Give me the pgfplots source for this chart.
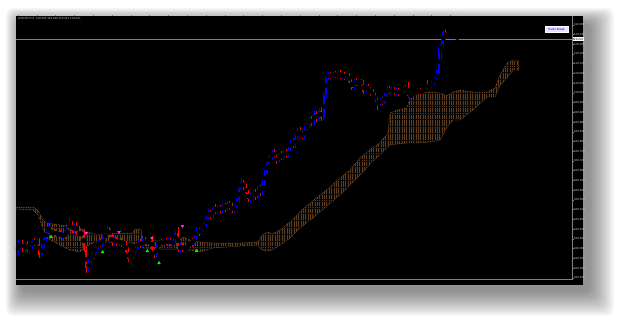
\documentclass[border=0pt]{standalone}
\usepackage{fontspec}
\setmainfont{Liberation Sans}
\usepackage{pgfplots}
\usepackage{pgfplotstable}
\pgfplotsset{compat=1.18}
\usetikzlibrary{patterns.meta}
\definecolor{cloudc}{RGB}{130,86,48}
\definecolor{cloudhatch}{RGB}{92,61,34}
\definecolor{cloudfill}{RGB}{10,7,4}
\definecolor{bull}{RGB}{0,0,255}
\definecolor{bear}{RGB}{255,0,0}
\definecolor{axgray}{RGB}{128,128,128}
\definecolor{lbl}{RGB}{200,200,200}
\definecolor{kumobg}{RGB}{232,226,255}
\definecolor{greenc}{RGB}{0,255,0}
\definecolor{magc}{RGB}{255,40,255}
\newcommand\tf{\fontsize{3}{3.6}\selectfont}

\pgfplotstableread{
i o h l c
0 252 240 255 245
1 245 241 250 243
2 243 240 252 249
3 249 242 253 244
4 244 241 252 250
5 250 245 254 247
6 247 239 249 241
7 241 238 246 244
8 244 239 247 241
9 241 238 258 255
10 255 244 258 246
11 246 236 248 238
12 238 229 241 232
13 232 222 235 229
14 229 227 236 234
15 234 229 238 231
16 231 229 237 235
17 235 231 238 233
18 233 230 238 236
19 236 232 240 234
20 234 230 239 236
21 236 225 238 228
22 228 217 231 224
23 224 221 233 231
24 231 223 233 226
25 226 222 235 232
26 232 226 241 236
27 236 228 239 231
28 231 229 252 250
29 250 246 273 268
30 268 258 272 262
31 262 252 265 256
32 256 250 260 253
33 253 244 256 247
34 247 240 249 243
35 243 238 247 245
36 245 235 247 238
37 238 231 241 234
38 234 226 236 229
39 229 227 238 235
40 235 233 246 243
41 243 236 245 239
42 239 237 246 244
43 244 238 246 240
44 240 238 247 245
45 245 241 248 243
46 243 241 255 252
47 252 247 262 259
48 259 254 266 257
49 257 250 259 253
50 253 246 255 248
51 248 240 250 242
52 242 239 248 246
53 246 238 248 240
54 240 237 246 244
55 244 238 246 240
56 240 236 243 238
57 238 236 252 250
58 250 247 258 255
59 255 243 257 246
60 246 240 249 241
61 241 239 246 244
62 244 239 247 241
63 241 238 245 243
64 243 238 246 240
65 240 238 246 244
66 244 239 247 241
67 241 231 244 233
68 233 227 252 249
69 249 243 253 245
70 245 243 252 250
71 250 246 253 248
72 248 244 252 246
73 246 240 248 242
74 242 238 247 244
75 244 235 246 237
76 237 227 240 230
77 230 228 236 233
78 233 226 235 228
79 228 223 232 225
80 225 216 227 218
81 218 209 220 212
82 212 210 219 216
83 216 206 218 208
84 208 204 214 212
85 212 205 214 207
86 207 205 213 211
87 211 203 213 205
88 205 203 212 209
89 209 201 211 203
90 203 201 210 207
91 207 203 213 210
92 210 204 214 207
93 207 198 209 200
94 200 186 203 189
95 189 178 191 182
96 182 180 190 187
97 187 184 196 193
98 193 190 202 199
99 199 193 203 196
100 196 190 198 192
101 192 189 200 197
102 197 186 199 189
103 189 185 196 193
104 193 180 195 183
105 183 170 186 173
106 173 160 175 163
107 163 154 166 157
108 157 150 160 152
109 152 149 159 157
110 157 154 164 161
111 161 153 163 155
112 155 151 160 158
113 158 150 160 152
114 152 149 158 156
115 156 147 158 149
116 149 140 151 142
117 142 139 148 146
118 146 135 148 137
119 137 128 139 130
120 130 127 137 134
121 134 131 139 137
122 137 126 139 129
123 129 122 131 124
124 124 116 127 119
125 119 116 126 123
126 123 110 125 113
127 113 111 122 119
128 119 108 121 111
129 111 107 121 118
130 118 92 120 95
131 95 74 97 77
132 77 72 80 75
133 75 72 79 77
134 77 72 78 74
135 74 71 78 76
136 76 72 78 74
137 74 70 79 77
138 77 73 79 75
139 75 72 80 78
140 78 70 79 75
141 75 73 84 82
142 82 78 90 88
143 88 79 89 81
144 81 78 86 84
145 84 79 86 81
146 81 79 86 84
147 84 80 94 92
148 92 85 93 87
149 87 84 92 90
150 90 87 96 94
151 94 89 98 96
152 96 93 102 100
153 100 97 110 104
154 104 98 106 100
155 100 97 105 103
156 103 93 104 95
157 95 86 97 89
158 89 86 94 92
159 92 87 94 89
160 89 87 95 93
161 93 88 95 90
162 90 88 96 94
163 94 90 96 92
164 92 86 94 88
165 88 85 92 90
166 90 82 98 96
167 96 93 99 95
168 95 91 97 93
169 93 90 96 92
170 92 88 94 90
171 90 88 95 93
172 93 87 94 89
173 89 86 91 88
174 88 80 92 91
175 91 84 92 86
176 86 81 88 83
177 83 76 85 78
178 78 70 80 73
179 73 48 75 51
180 51 41 60 44
181 44 30 47 32
182 32 30 40 37
183 37 33 39 35
184 35 33 38 36
185 36 34 39 37
186 37 35 39 36
187 36 35 40 39
}\candles

% Ichimoku cloud outline: upper span forward, then lower span backward
\pgfplotstableread{
i y
-1 207
6.4 207
8.5 210
10.6 220
12.3 223
17.9 225
22.1 226
26.4 228
29.4 232
32.8 234
39.1 234
45.5 233
48.9 233
49.8 229
52.3 229
53.2 240
60.4 241
68.9 240
70.2 237
73.2 240
77.4 242
83 243
94.5 243
102.1 242
103.8 235
106.4 232
108.1 234
111.5 230
115.7 222
120 212
124.3 203
128.5 195
132.8 187
137 178
141.3 170
145.5 158
150.6 148
154 143
157.4 133
158.3 113
161.3 110
165.5 108
166.8 98
169.8 93
175.3 92
179.6 93
182.6 96
185.1 92
188.1 90
193.6 92
199.6 92
203 88
205.1 75
208.1 63
210.6 60
213 60
213 70
210.6 70
208.1 78
205.1 85
203 97
199.6 97
193.6 110
188.1 120
185.1 120
182.6 127
179.6 140
175.3 142
169.8 143
166.8 143
165.5 143
161.3 144
158.3 145
157.4 147
154 155
150.6 162
145.5 175
141.3 185
137 195
132.8 203
128.5 212
124.3 220
120 228
115.7 238
111.5 245
108.1 250
106.4 251
103.8 250
102.1 245
94.5 246
83 248
77.4 252
73.2 250
70.2 250
68.9 249
60.4 249
53.2 248
52.3 245
49.8 244
48.9 243
45.5 241
39.1 242
32.8 242
29.4 246
26.4 252
22.1 250
17.9 245
12.3 238
10.6 228
8.5 215
6.4 210
-1 209
}\cloud

\begin{document}
\begin{tikzpicture}
\begin{scope}[x=1bp,y=1bp]
\useasboundingbox (0,0) rectangle (619,-321);
\fill[white] (0,0) rectangle (619,-321);
\foreach \k in {1,...,18} {
  \fill[black, opacity=0.028, rounded corners=8bp] ({22-0.9*\k},{-24+0.9*\k}) rectangle ({589+1.4*\k},{-291-1.4*\k});
}
\fill[black] (16,-16) rectangle (583,-285);
\end{scope}

\begin{axis}[
  at={(16bp,-279bp)}, anchor=south west,
  scale only axis, width=556bp, height=263bp,
  xmin=-0.851, xmax=235.745, ymin=16, ymax=279, y dir=reverse,
  axis line style={draw=none},
  tick align=outside, major tick length=1.5bp,
  tick style={draw=axgray, line width=0.4bp},
  xtick pos=right, xticklabel pos=right,
  ytick pos=right, yticklabel pos=right,
  xtick={0,8,...,184},
  xticklabels={24 May 2021,25 May 00:00,25 May 08:00,25 May 16:00,26 May 00:00,26 May 08:00,26 May 16:00,27 May 00:00,27 May 08:00,27 May 16:00,28 May 00:00,28 May 08:00,28 May 16:00,31 May 00:00,31 May 08:00,31 May 16:00,1 Jun 00:00,1 Jun 08:00,1 Jun 16:00,2 Jun 00:00,2 Jun 08:00,2 Jun 16:00,3 Jun 00:00,3 Jun 08:00},
  xticklabel style={anchor=north west, inner sep=0.3bp, xshift=0.3bp, yshift=1.2bp, font=\tf, text=lbl},
  ytick={24.72,34.45,44.18,53.91,63.64,73.37,83.1,92.83,102.56,112.29,122.02,131.75,141.48,151.21,160.94,170.67,180.4,190.13,199.86,209.59,219.32,229.05,238.78,248.51,258.24,267.97,277.7},
  yticklabels={110.280,110.240,110.200,110.160,110.120,110.080,110.040,110.000,109.960,109.920,109.880,109.840,109.800,109.760,109.720,109.680,109.640,109.600,109.560,109.520,109.480,109.440,109.400,109.360,109.320,109.280,109.240},
  yticklabel style={anchor=west, inner sep=0.3bp, font=\tf, text=lbl},
]
% Ichimoku cloud (hatched area between the spans)
\addplot[fill=cloudfill, draw=cloudc, densely dotted, line width=0.45bp,
  postaction={pattern={Lines[angle=90,distance=2.35bp,line width=0.35bp]}, pattern color=cloudhatch}]
  table[x=i, y=y] {\cloud} -- cycle;

% current price line
\addplot[axgray, line width=0.6bp] coordinates {(-0.851,39) (235.745,39)};

% bullish wicks and bodies
\addplot[only marks, mark=none, error bars/.cd, y dir=both, y explicit, error mark=none,
  error bar style={draw=bull, line width=0.6bp}]
  table[x=i, y expr={\thisrow{c}<=\thisrow{o} ? (\thisrow{h}+\thisrow{l})/2 : -1000}, y error expr={(\thisrow{l}-\thisrow{h})/2}] {\candles};
\addplot[only marks, mark=none, error bars/.cd, y dir=both, y explicit, error mark=none,
  error bar style={draw=bull, line width=2bp}]
  table[x=i, y expr={\thisrow{c}<=\thisrow{o} ? (\thisrow{o}+\thisrow{c})/2 : -1000}, y error expr={max(abs(\thisrow{o}-\thisrow{c})/2,0.4)}] {\candles};
% bearish wicks and bodies
\addplot[only marks, mark=none, error bars/.cd, y dir=both, y explicit, error mark=none,
  error bar style={draw=bear, line width=0.6bp}]
  table[x=i, y expr={\thisrow{c}>\thisrow{o} ? (\thisrow{h}+\thisrow{l})/2 : -1000}, y error expr={(\thisrow{l}-\thisrow{h})/2}] {\candles};
\addplot[only marks, mark=none, error bars/.cd, y dir=both, y explicit, error mark=none,
  error bar style={draw=bear, line width=2bp}]
  table[x=i, y expr={\thisrow{c}>\thisrow{o} ? (\thisrow{o}+\thisrow{c})/2 : -1000}, y error expr={max(abs(\thisrow{o}-\thisrow{c})/2,0.4)}] {\candles};

% signal arrows
\addplot[only marks, mark=triangle*, mark size=1.6bp, greenc] coordinates {(14,237) (36,252) (55,251) (60,263) (76,251)};
\addplot[only marks, mark=triangle*, mark size=1.6bp, magc, mark options={rotate=180}] coordinates {(29,233) (43,232) (57,238) (70,226)};
\end{axis}

\begin{scope}[x=1bp,y=1bp]
\draw[axgray, line width=0.5bp] (572,-16) -- (572,-279) -- (16,-279);
\node[anchor=west, font=\tf, text=lbl, inner sep=0] at (18,-19) {USDJPY,H1\ \ 110.230 110.236 110.212 110.221};
\node[fill=kumobg, draw=white, line width=0.3bp, text=bull, font=\tf, inner sep=0.5bp, minimum width=23bp, minimum height=5.5bp] at (556.5,-29) {Kumo Break};
\node[fill=white, text=black, font=\tf, inner sep=0.3bp, minimum width=11bp, minimum height=4.5bp, anchor=west] at (572.3,-39) {110.221};
\end{scope}
\end{tikzpicture}
\end{document}
